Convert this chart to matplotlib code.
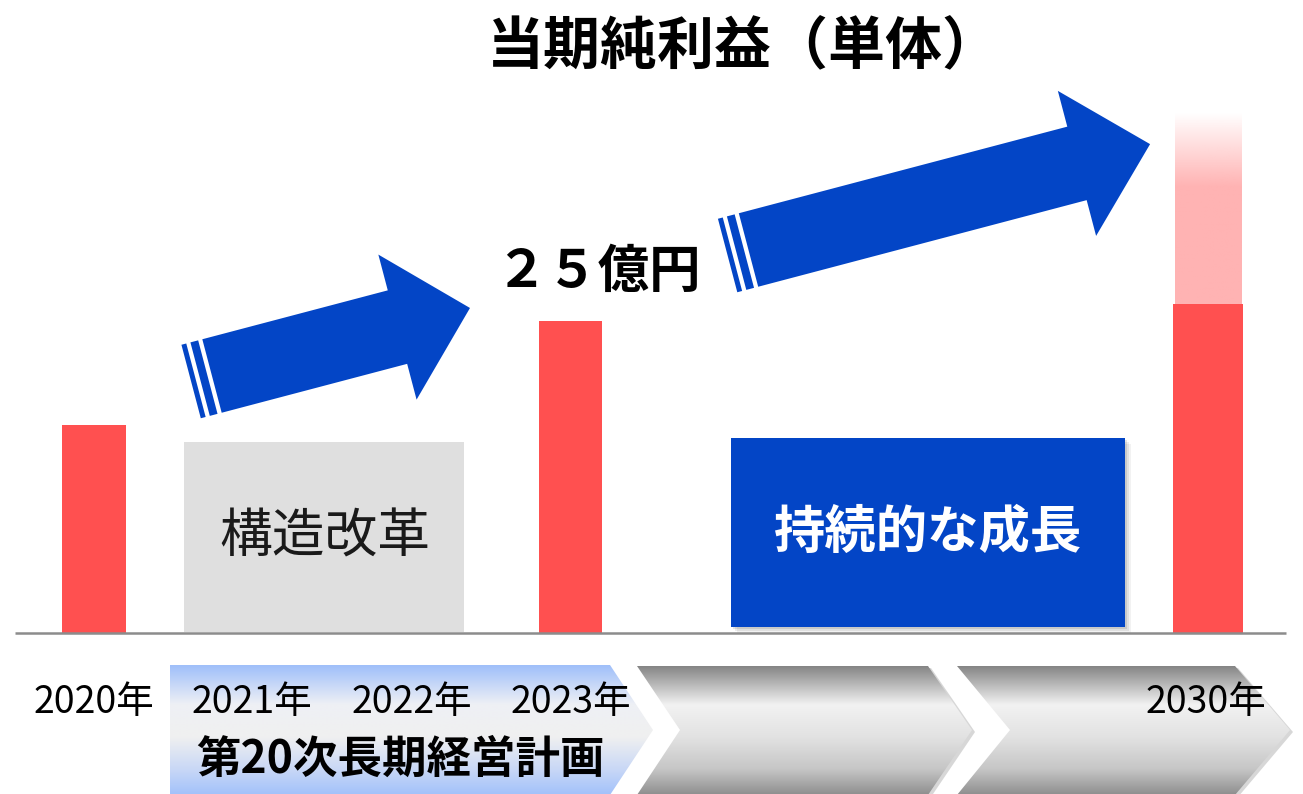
import numpy as np
import matplotlib
matplotlib.use('Agg')
import matplotlib.pyplot as plt
from matplotlib.patches import Polygon, Rectangle
from matplotlib.colors import LinearSegmentedColormap, to_rgb

plt.rcParams['font.family'] = ['Noto Sans CJK JP', 'DejaVu Sans']

# data (億円)
years = ['2020年', '2021年', '2022年', '2023年', '2030年']
bar_years = ['2020年', '2023年', '2030年']
net_income = [16.7, 25.0, 26.4]
target_2030 = 41.7
title = '当期純利益（単体）'
value_label = '２５億円'
phase_labels = ['構造改革', '持続的な成長']
plan_label = '第20次長期経営計画'

# layout, in pixels of the 1303x794 canvas
W, H = 1303, 794
BASE_Y = 633
PX_PER_UNIT = 312 / 25
year_x = {'2020年': 94, '2021年': 252, '2022年': 412, '2023年': 571, '2030年': 1206}
bar_x = {'2020年': 94, '2023年': 570.5, '2030年': 1208}
bar_w = {'2020年': 64, '2023年': 63, '2030年': 70}
RED = '#ff5050'
PINK = '#ffb3b3'
BLUE = '#0345c6'


def gradient_poly(ax, pts, colors, positions, z=1):
    cmap = LinearSegmentedColormap.from_list('g', list(zip(positions, colors)))
    xs = [p[0] for p in pts]
    ys = [p[1] for p in pts]
    grad = np.linspace(0, 1, 256).reshape(-1, 1)
    im = ax.imshow(grad, cmap=cmap, extent=(min(xs), max(xs), max(ys), min(ys)),
                   origin='upper', aspect='auto', interpolation='bilinear', zorder=z)
    poly = Polygon(pts, closed=True, facecolor='none', edgecolor='none')
    ax.add_patch(poly)
    im.set_clip_path(poly)


def draw_arrow(ax, center, length, w=38, h=75, hl=75, theta=14.77):
    t = np.radians(theta)
    d = np.array([np.cos(t), -np.sin(t)])
    n = np.array([-np.sin(t), -np.cos(t)])
    c = np.array(center)

    def P(u, v):
        return c + u * d + v * n

    body = [P(0, w), P(length - hl, w), P(length - hl, h), P(length, 0),
            P(length - hl, -h), P(length - hl, -w), P(0, -w)]
    ax.add_patch(Polygon(body, closed=True, facecolor=BLUE, edgecolor='none', zorder=3))
    # the two thin stripes behind the tail
    for u0, u1 in [(-12.3, -4.3), (-21.6, -16.6)]:
        stripe = [P(u0, w), P(u1, w), P(u1, -w), P(u0, -w)]
        ax.add_patch(Polygon(stripe, closed=True, facecolor=BLUE, edgecolor='none', zorder=3))


fig = plt.figure(figsize=(W / 100, H / 100), dpi=100)
deco = fig.add_axes([0, 0, 1, 1])
deco.axis('off')

# timeline chevrons
gray_cols = ['#858585', '#f2f2f2', '#e2e2e2', '#c6c6c6', '#8e8e8e']
gray_pos = [0, 0.3, 0.55, 0.8, 1]
blue_cols = ['#9fbffa', '#eef0f5', '#f0f0f0', '#c9d8f6', '#a2c1fb']
chev_blue = [(170, 665), (610, 665), (653, 730), (610, 795), (170, 795)]
chev_g1 = [(637, 666), (928, 666), (972, 730), (928, 795), (637, 795), (680, 730)]
chev_g2 = [(957, 666), (1235, 666), (1290, 730), (1235, 795), (957, 795), (1010, 730)]
for pts in [chev_g1, chev_g2]:
    sh = [(x + 3, y + 2) for x, y in pts]
    deco.add_patch(Polygon(sh, closed=True, facecolor='#a8a8a8', edgecolor='none', alpha=0.45, zorder=0.8))
    gradient_poly(deco, pts, gray_cols, gray_pos)
gradient_poly(deco, chev_blue, blue_cols, gray_pos, z=1.1)

# phase boxes
deco.add_patch(Rectangle((184, 442), 280, 190, facecolor='#dfdfdf', edgecolor='none', zorder=2))
deco.text(325, 537, phase_labels[0], ha='center', va='center', fontsize=38, color='#1a1a1a', zorder=5)
for off, a in [(6, 0.05), (4, 0.07), (2, 0.1)]:
    deco.add_patch(Rectangle((731 + off, 438 + off), 394, 189, facecolor='black', edgecolor='none',
                             alpha=a, zorder=1.9))
deco.add_patch(Rectangle((731, 438), 394, 189, facecolor=BLUE, edgecolor='none', zorder=2))
deco.text(928, 532, phase_labels[1], ha='center', va='center', fontsize=37, fontweight='bold',
          color='white', zorder=5)

# arrows
draw_arrow(deco, (212, 376), 266.8)
draw_arrow(deco, (748.5, 250), 415.3, hl=75.6)

# texts
deco.text(743, 47, title, ha='center', va='center', fontsize=41, fontweight='bold', zorder=5)
deco.text(598, 271, value_label, ha='center', va='center', fontsize=37, fontweight='bold', zorder=5)
for y in years:
    deco.text(year_x[y], 702, y, ha='center', va='center', fontsize=27, zorder=5)
deco.text(400, 760, plan_label, ha='center', va='center', fontsize=32, fontweight='bold', zorder=5)

deco.set_xlim(0, W)
deco.set_ylim(H, 0)

# bars in value units
ax = fig.add_axes([0, 0, 1, 1], zorder=2)
ax.patch.set_alpha(0)
ax.axis('off')

xs = [bar_x[y] for y in bar_years]
ws = [bar_w[y] for y in bar_years]

# faded 2030 target bar
solid_to = target_2030 - 74 / PX_PER_UNIT
yy = np.linspace(0, target_2030, 400)
img = np.zeros((400, 1, 4))
img[..., :3] = to_rgb(PINK)
img[..., 3] = np.clip((target_2030 - yy) / (target_2030 - solid_to), 0, 1)[:, None]
fx = bar_x['2030年']
ax.imshow(img, extent=(fx - 33.5, fx + 33.5, 0, target_2030), origin='lower',
          aspect='auto', interpolation='bilinear', zorder=1)

ax.bar(xs, net_income, width=ws, color=RED, zorder=2)
ax.plot([15, 1286], [0, 0], color='#8c8c8c', lw=1.8, zorder=3, solid_capstyle='butt')

ax.set_xlim(0, W)
ax.set_ylim(-(H - BASE_Y) / PX_PER_UNIT, BASE_Y / PX_PER_UNIT)

fig.savefig('out.png', dpi=100)
